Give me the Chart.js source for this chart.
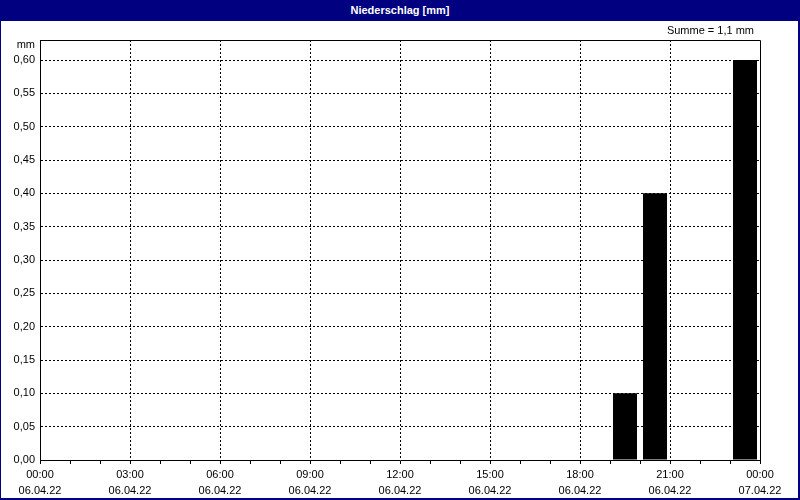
<!DOCTYPE html>
<html>
<head>
<meta charset="utf-8">
<script src="https://cdn.jsdelivr.net/npm/chart.js@4"></script>
<style>
  html, body { margin: 0; padding: 0; background: #fff; }
  #wrap { position: relative; width: 800px; height: 500px; overflow: hidden; }
  #chart { position: absolute; left: 0; top: 0; }
  #titlebar {
    position: absolute; left: 0; top: 0; width: 800px; height: 21px;
    background: #000080; color: #fff; text-align: center;
    font: bold 11px "Liberation Sans", Arial, sans-serif; line-height: 20px;
  }
  #frame {
    position: absolute; left: 0; top: 0; width: 800px; height: 500px; box-sizing: border-box;
    border-left: 1px solid #000080; border-right: 2px solid #000080; border-bottom: 2px solid #000080;
    pointer-events: none;
  }
</style>
</head>
<body>
<div id="wrap">
  <canvas id="chart" width="800" height="500"></canvas>
  <div id="titlebar">Niederschlag [mm]</div>
  <div id="frame"></div>
</div>
<script>
// Stunden des 06.04.22 (je eine Säule pro Stunde)
const hours = ['00:00','01:00','02:00','03:00','04:00','05:00','06:00','07:00','08:00','09:00','10:00','11:00',
               '12:00','13:00','14:00','15:00','16:00','17:00','18:00','19:00','20:00','21:00','22:00','23:00'];
const rain = [0,0,0,0,0,0,0,0,0,0,0,0, 0,0,0,0,0,0,0,0.1,0.4,0,0,0.6];

// Achsenbeschriftungen
const xTickHours = [0,1,2,3,4,5,6,7,8,9,10,11,12,13,14,15,16,17,18,19,20,21,22,23,24];
const timeLabels = ['00:00','03:00','06:00','09:00','12:00','15:00','18:00','21:00','00:00'];
const dateLabels = ['06.04.22','06.04.22','06.04.22','06.04.22','06.04.22','06.04.22','06.04.22','06.04.22','07.04.22'];
const yTicks = [0,0.05,0.10,0.15,0.20,0.25,0.30,0.35,0.40,0.45,0.50,0.55,0.60];
const yMax = 0.63;
const unitLabel = 'mm';
const sumLabel = 'Summe = 1,1 mm';

const FONT = '"Liberation Sans", Arial, sans-serif';
Chart.defaults.font.family = FONT;
Chart.defaults.font.size = 11;
Chart.defaults.color = '#000';

// Rahmen oben/rechts + Zusatztexte
const extras = {
  id: 'extras',
  afterDraw(chart) {
    const { ctx, chartArea: a } = chart;
    ctx.save();
    ctx.strokeStyle = '#000';
    ctx.lineWidth = 1;
    ctx.beginPath();
    ctx.moveTo(a.left + 0.5, a.top + 0.5);
    ctx.lineTo(a.right + 0.5, a.top + 0.5);
    ctx.lineTo(a.right + 0.5, a.bottom);
    ctx.stroke();
    ctx.fillStyle = '#000';
    ctx.font = '11px ' + FONT;
    ctx.textAlign = 'right';
    ctx.textBaseline = 'alphabetic';
    ctx.fillText(unitLabel, a.left - 5, a.top + 8);
    ctx.fillText(sumLabel, a.right - 6, a.top - 6);
    ctx.restore();
  }
};

new Chart(document.getElementById('chart'), {
  type: 'bar',
  data: {
    labels: hours,
    datasets: [{
      data: rain,
      backgroundColor: '#000',
      borderWidth: 0,
      barPercentage: 0.8,
      categoryPercentage: 1.0,
      xAxisID: 'x',
      yAxisID: 'y'
    }]
  },
  options: {
    responsive: false,
    animation: false,
    layout: { padding: { top: 40, right: 40, left: 0, bottom: 0 } },
    plugins: { legend: { display: false }, tooltip: { enabled: false }, title: { display: false } },
    scales: {
      x: { display: false, offset: true },
      xt: {
        type: 'linear',
        position: 'bottom',
        min: 0, max: 24,
        offset: false,
        afterBuildTicks: axis => { axis.ticks = xTickHours.map(v => ({ value: v })); },
        afterFit: axis => { axis.height = 40; },
        ticks: {
          autoSkip: false, maxRotation: 0, minRotation: 0, padding: 3,
          font: { size: 11, lineHeight: 1.45 },
          callback: v => (v % 3 === 0) ? [timeLabels[v / 3], dateLabels[v / 3]] : ''
        },
        grid: {
          offset: false,
          color: c => (c.tick && c.tick.value % 3 === 0 && c.tick.value > 0 && c.tick.value < 24) ? '#000' : 'rgba(0,0,0,0)',
          tickColor: '#000',
          tickLength: 4,
          tickBorderDash: []
        },
        border: { display: true, color: '#000', width: 1, dash: [2, 2] }
      },
      y: {
        min: 0, max: yMax,
        afterBuildTicks: axis => { axis.ticks = yTicks.map(v => ({ value: v })); },
        afterFit: axis => { axis.width = 40; },
        ticks: {
          padding: 5,
          callback: v => v.toFixed(2).replace('.', ',')
        },
        grid: {
          drawTicks: false,
          color: c => (c.tick && c.tick.value > 0) ? '#000' : 'rgba(0,0,0,0)'
        },
        border: { display: true, color: '#000', width: 1, dash: [2, 2] }
      }
    }
  },
  plugins: [extras]
});
</script>
</body>
</html>
